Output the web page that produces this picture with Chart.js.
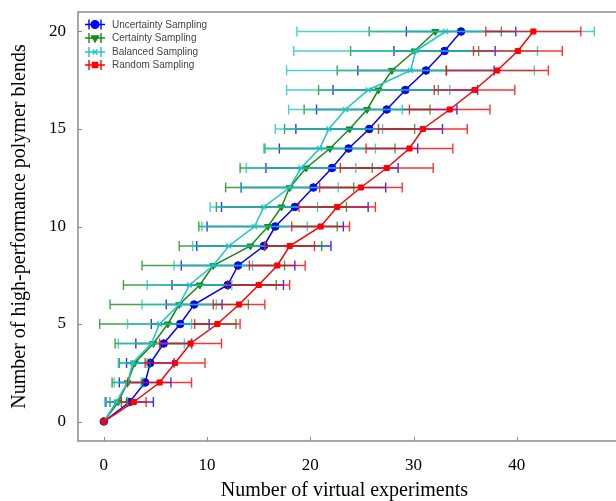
<!DOCTYPE html>
<html>
<head>
<meta charset="utf-8">
<script src="https://cdn.jsdelivr.net/npm/chart.js@4.4.0/dist/chart.umd.min.js"></script>
<style>
  html, body { margin: 0; padding: 0; background: #fff; }
</style>
</head>
<body>
<canvas id="chart" width="616" height="501"></canvas>
<script>
// number of high-performance blends found (y values)
const levels = [0, 1, 2, 3, 4, 5, 6, 7, 8, 9, 10, 11, 12, 13, 14, 15, 16, 17, 18, 19, 20];

// mean number of virtual experiments and its spread, per strategy
const uncertaintyX   = [0, 2.5, 4.0, 4.5, 5.8, 7.4, 8.75, 12.0, 13.0, 15.5, 16.6, 18.5, 20.3, 22.1, 23.7, 25.7, 27.4, 29.2, 31.2, 33.0, 34.6];
const uncertaintyErr = [0, 2.3, 2.5, 2.3, 2.7, 2.8, 2.7, 5.4, 5.5, 6.5, 6.6, 7.1, 7.0, 6.4, 6.7, 7.1, 6.8, 7.0, 6.6, 4.9, 5.3];

const certaintyX   = [0, 1.4, 2.3, 3.0, 4.8, 6.2, 7.3, 9.3, 10.6, 14.2, 15.9, 17.2, 18.0, 19.6, 21.9, 23.8, 25.5, 26.6, 27.9, 30.1, 32.1];
const certaintyErr = [0, 0.8, 1.5, 1.5, 3.7, 6.6, 6.7, 7.4, 6.9, 6.9, 6.7, 6.3, 6.2, 6.4, 6.3, 6.3, 6.1, 5.8, 5.3, 6.2, 6.4];

const balancedX   = [0, 1.2, 2.3, 2.8, 4.6, 5.4, 7.3, 8.3, 10.6, 12.1, 14.6, 15.5, 18.0, 19.1, 20.9, 21.8, 23.4, 25.6, 29.7, 30.2, 33.1];
const balancedErr = [0, 1.1, 1.3, 1.4, 3.2, 3.1, 3.6, 4.1, 3.8, 3.5, 5.1, 5.2, 4.7, 5.3, 5.4, 5.2, 5.5, 7.9, 12.0, 11.8, 14.4];

const randomX   = [0, 2.9, 5.4, 6.9, 8.4, 11.0, 13.1, 15.0, 16.8, 18.0, 21.0, 22.6, 24.9, 27.4, 29.6, 30.9, 33.5, 35.9, 38.1, 40.1, 41.6];
const randomErr = [0, 1.2, 3.1, 2.9, 3.0, 2.2, 2.5, 3.0, 2.7, 2.4, 2.8, 3.7, 4.0, 4.5, 4.2, 4.3, 3.9, 3.9, 4.95, 4.3, 4.6];

const xTicks = [0, 10, 20, 30, 40];
const yTicks = [0, 5, 10, 15, 20];

const AXIS_GREY = '#8c8c8c';
const SERIF = '"Liberation Serif", "Times New Roman", serif';

function toPoints(xs) {
    return xs.map((x, i) => ({x: x, y: levels[i]}));
}

function makeSeries(label, xs, errs, color, style, rot, radius, order) {
    return {
        label: label,
        data: toPoints(xs),
        xErr: errs,
        showLine: true,
        borderColor: color,
        backgroundColor: color,
        borderWidth: 1.5,
        pointStyle: style,
        pointRotation: rot,
        pointRadius: radius,
        pointBorderWidth: style === 'crossRot' ? 1.2 : 1,
        pointBorderColor: color,
        pointBackgroundColor: color,
        order: order
    };
}

// horizontal error bars, drawn just under each series
const errorBars = {
    id: 'errorBars',
    beforeDatasetDraw(chart, args) {
        const ds = chart.data.datasets[args.index];
        const xs = chart.scales.x, ys = chart.scales.y;
        const ctx = chart.ctx;
        ctx.save();
        ctx.strokeStyle = ds.borderColor;
        ctx.globalAlpha = 0.8;
        ctx.lineWidth = 1.4;
        ds.data.forEach((p, i) => {
            const e = ds.xErr[i];
            if (!e) return;
            const x1 = xs.getPixelForValue(p.x - e);
            const x2 = xs.getPixelForValue(p.x + e);
            const y = ys.getPixelForValue(p.y);
            ctx.beginPath();
            ctx.moveTo(x1, y); ctx.lineTo(x2, y);
            ctx.moveTo(x1, y - 5); ctx.lineTo(x1, y + 5);
            ctx.moveTo(x2, y - 5); ctx.lineTo(x2, y + 5);
            ctx.stroke();
        });
        ctx.restore();
    }
};

// frame with inward ticks, and the legend box in the upper left
const frameAndLegend = {
    id: 'frameAndLegend',
    afterDraw(chart) {
        const ctx = chart.ctx;
        const a = chart.chartArea;
        const xs = chart.scales.x, ys = chart.scales.y;
        const right = chart.width;   // the frame runs off the right edge
        ctx.save();
        ctx.strokeStyle = AXIS_GREY;
        ctx.lineWidth = 1.5;
        ctx.beginPath();
        ctx.moveTo(right, a.top); ctx.lineTo(a.left, a.top);
        ctx.lineTo(a.left, a.bottom); ctx.lineTo(right, a.bottom);
        ctx.stroke();
        ctx.lineWidth = 1;
        ctx.beginPath();
        xTicks.forEach(v => {
            const px = Math.round(xs.getPixelForValue(v)) + 0.5;
            ctx.moveTo(px, a.bottom); ctx.lineTo(px, a.bottom - 4);
        });
        yTicks.forEach(v => {
            const py = Math.round(ys.getPixelForValue(v)) + 0.5;
            ctx.moveTo(a.left, py); ctx.lineTo(a.left + 4, py);
        });
        ctx.stroke();

        // legend
        const rows = [24.5, 38, 52, 65];
        const order = [3, 2, 1, 0].map(o => chart.data.datasets.find(d => d.order === o));
        ctx.font = '10px "Liberation Sans", Arial, sans-serif';
        ctx.textBaseline = 'middle';
        order.forEach((ds, i) => {
            const y = rows[i];
            ctx.strokeStyle = ds.borderColor;
            ctx.fillStyle = ds.borderColor;
            ctx.lineWidth = 1.4;
            ctx.beginPath();
            ctx.moveTo(85, y); ctx.lineTo(105, y);
            ctx.moveTo(89, y - 5); ctx.lineTo(89, y + 5);
            ctx.moveTo(101, y - 5); ctx.lineTo(101, y + 5);
            ctx.stroke();
            Chart.helpers.drawPoint(ctx, {
                pointStyle: ds.pointStyle,
                radius: ds.pointRadius,
                rotation: ds.pointRotation,
                borderWidth: ds.pointBorderWidth
            }, 95, y);
            ctx.fillStyle = '#444';
            ctx.fillText(ds.label, 112, y + 0.5);
        });
        ctx.restore();
    }
};

new Chart(document.getElementById('chart').getContext('2d'), {
    type: 'scatter',
    data: {
        datasets: [
            makeSeries('Uncertainty Sampling', uncertaintyX, uncertaintyErr, '#0000ff', 'circle', 0, 3.8, 3),
            makeSeries('Certainty Sampling', certaintyX, certaintyErr, '#168c16', 'triangle', 180, 4, 2),
            makeSeries('Balanced Sampling', balancedX, balancedErr, '#1cc6c6', 'crossRot', 0, 3.5, 1),
            makeSeries('Random Sampling', randomX, randomErr, '#ff0000', 'rect', 0, 3.6, 0)
        ]
    },
    options: {
        responsive: false,
        animation: false,
        devicePixelRatio: 1,
        layout: {padding: {top: 12, right: 0, left: 0, bottom: 0}},
        plugins: {
            legend: {display: false},
            tooltip: {enabled: false}
        },
        scales: {
            x: {
                type: 'linear',
                min: -2.5,
                max: 49.1,
                afterFit: s => { s.height = 60; s.paddingLeft = 0; s.paddingRight = 0; },
                afterBuildTicks: s => { s.ticks = xTicks.map(v => ({value: v})); },
                grid: {display: false, drawTicks: false},
                border: {display: false},
                ticks: {
                    padding: 14,
                    color: '#000',
                    font: {family: SERIF, size: 17}
                },
                title: {
                    display: true,
                    text: 'Number of virtual experiments',
                    color: '#000',
                    padding: {top: 0, bottom: 0},
                    font: {family: SERIF, size: 20, lineHeight: 1}
                }
            },
            y: {
                type: 'linear',
                min: -1,
                max: 21,
                afterFit: s => { s.width = 78; s.paddingTop = 0; s.paddingBottom = 0; },
                afterBuildTicks: s => { s.ticks = yTicks.map(v => ({value: v})); },
                grid: {display: false, drawTicks: false},
                border: {display: false},
                ticks: {
                    padding: 12,
                    color: '#000',
                    font: {family: SERIF, size: 17}
                },
                title: {
                    display: true,
                    text: 'Number of high-performance polymer blends',
                    color: '#000',
                    padding: {top: 10, bottom: 0},
                    font: {family: SERIF, size: 20, lineHeight: 1}
                }
            }
        }
    },
    plugins: [errorBars, frameAndLegend]
});
</script>
</body>
</html>
